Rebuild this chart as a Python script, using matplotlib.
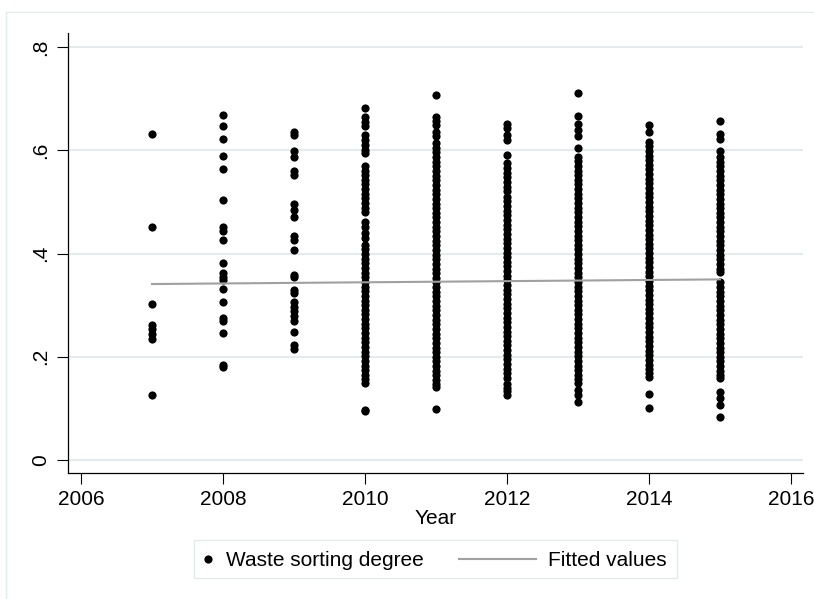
import matplotlib
matplotlib.use("Agg")
import matplotlib.pyplot as plt
from matplotlib.lines import Line2D
from matplotlib.patches import Rectangle

plt.rcParams['font.family'] = ['Liberation Sans', 'DejaVu Sans']

# ---------------- data ----------------
vals_2007 = [0.632, 0.452, 0.302, 0.262, 0.253, 0.244, 0.234, 0.126]
vals_2008 = [0.669, 0.647, 0.622, 0.590, 0.563, 0.503, 0.452, 0.444, 0.426, 0.382,
             0.363, 0.355, 0.349, 0.331, 0.306, 0.276, 0.270, 0.247, 0.185, 0.181]
vals_2009 = [0.636, 0.629, 0.598, 0.587, 0.560, 0.552, 0.497, 0.484, 0.470, 0.435,
             0.426, 0.407, 0.358, 0.354, 0.329, 0.324, 0.306, 0.297, 0.289, 0.280,
             0.270, 0.249, 0.223, 0.215]
vals_2010 = [0.683, 0.665, 0.655, 0.647, 0.630, 0.620, 0.611, 0.601, 0.594,
             0.570, 0.561, 0.552, 0.543, 0.534, 0.525, 0.516, 0.507, 0.498, 0.489, 0.480,
             0.462, 0.452, 0.439, 0.430,
             0.417, 0.408, 0.399, 0.390, 0.381, 0.372, 0.363, 0.354, 0.345, 0.336,
             0.327, 0.318, 0.309, 0.300, 0.291, 0.282, 0.273, 0.264, 0.255, 0.246,
             0.237, 0.228, 0.219, 0.210, 0.201, 0.192, 0.183, 0.174, 0.165, 0.156,
             0.149, 0.097, 0.094]
vals_2011 = [0.708, 0.665, 0.657, 0.649, 0.636, 0.627,
             0.614, 0.605, 0.596, 0.587, 0.578, 0.569, 0.560, 0.551, 0.542, 0.533,
             0.524, 0.515, 0.506, 0.497, 0.488, 0.479, 0.470, 0.461, 0.452, 0.443,
             0.434, 0.425, 0.416, 0.407, 0.398, 0.389, 0.380, 0.371, 0.362, 0.353,
             0.344, 0.335, 0.326, 0.317, 0.308, 0.299, 0.290, 0.281, 0.272, 0.263,
             0.254, 0.245, 0.236, 0.227, 0.218, 0.209, 0.200, 0.191, 0.182, 0.173,
             0.164, 0.155, 0.148, 0.142, 0.098]
vals_2012 = [0.652, 0.643, 0.630, 0.620, 0.591,
             0.575, 0.566, 0.557, 0.548, 0.539, 0.530, 0.521, 0.510, 0.501, 0.492,
             0.483, 0.474, 0.465, 0.456, 0.447, 0.438, 0.429, 0.420, 0.411, 0.402,
             0.393, 0.384, 0.375, 0.366, 0.357, 0.348, 0.339, 0.330, 0.321, 0.312,
             0.303, 0.294, 0.285, 0.276, 0.267, 0.258, 0.249, 0.240, 0.231, 0.222,
             0.213, 0.204, 0.195, 0.186, 0.177, 0.168, 0.159, 0.148, 0.140, 0.133,
             0.126]
vals_2013 = [0.712, 0.667, 0.651, 0.640, 0.627, 0.605,
             0.588, 0.579, 0.570, 0.561, 0.552, 0.543, 0.534, 0.525, 0.516, 0.507,
             0.498, 0.489, 0.480, 0.471, 0.462, 0.453, 0.444, 0.435, 0.426, 0.417,
             0.408, 0.399, 0.390, 0.381, 0.372, 0.363, 0.354, 0.345, 0.336, 0.327,
             0.318, 0.309, 0.300, 0.291, 0.282, 0.273, 0.264, 0.255, 0.246, 0.237,
             0.228, 0.219, 0.210, 0.201, 0.192, 0.183, 0.174, 0.165, 0.157, 0.149,
             0.136, 0.126, 0.113]
vals_2014 = [0.649, 0.636,
             0.617, 0.608, 0.599, 0.590, 0.581, 0.572, 0.563, 0.554, 0.545, 0.536,
             0.527, 0.518, 0.509, 0.500, 0.491, 0.482, 0.473, 0.464, 0.455, 0.446,
             0.437, 0.428, 0.419, 0.410, 0.401, 0.392, 0.383, 0.374, 0.365, 0.356,
             0.347, 0.338, 0.329, 0.320, 0.311, 0.302, 0.293, 0.284, 0.275, 0.266,
             0.257, 0.248, 0.239, 0.230, 0.221, 0.212, 0.203, 0.194, 0.185, 0.176,
             0.168, 0.161, 0.128, 0.100]
vals_2015 = [0.657, 0.631, 0.623, 0.598, 0.588,
             0.578, 0.569, 0.560, 0.551, 0.542, 0.533, 0.524, 0.515, 0.506, 0.497,
             0.488, 0.479, 0.470, 0.461, 0.452, 0.443, 0.434, 0.425, 0.416, 0.407,
             0.398, 0.389, 0.380, 0.371, 0.364,
             0.344, 0.335, 0.326, 0.317, 0.308, 0.299, 0.290, 0.281, 0.272, 0.263,
             0.254, 0.245, 0.236, 0.227, 0.218, 0.209, 0.200, 0.191, 0.182, 0.173,
             0.165, 0.158, 0.132, 0.120, 0.107, 0.084]

years = [2007, 2008, 2009, 2010, 2011, 2012, 2013, 2014, 2015]
values_by_year = [vals_2007, vals_2008, vals_2009, vals_2010, vals_2011,
                  vals_2012, vals_2013, vals_2014, vals_2015]

fit_years = [2007, 2015]
fit_values = [0.341, 0.350]

x_ticks = [2006, 2008, 2010, 2012, 2014, 2016]
y_ticks = [0, 0.2, 0.4, 0.6, 0.8]
y_tick_labels = ["0", ".2", ".4", ".6", ".8"]

series_label = "Waste sorting degree"
fit_label = "Fitted values"
x_label = "Year"

# ---------------- figure ----------------
W, H = 814, 599
fig = plt.figure(figsize=(W / 100, H / 100), dpi=100)
fig.patch.set_facecolor('white')

def fx(px):
    return px / W

def fy(py):
    return 1 - py / H

# outer light frame (top and left visible)
fig.add_artist(Rectangle((fx(6), -0.2), 1.5, fy(12) + 0.2, transform=fig.transFigure,
                         facecolor='none', edgecolor='#e3ebeb', linewidth=1.0))

ax_l, ax_r, ax_t, ax_b = 68, 803, 33, 473
ax = fig.add_axes([fx(ax_l), fy(ax_b), fx(ax_r - ax_l), (ax_b - ax_t) / H])
ax.set_facecolor('white')

xs, ys = [], []
for yr, vals in zip(years, values_by_year):
    xs.extend([yr] * len(vals))
    ys.extend(vals)

ax.plot(xs, ys, linestyle='none', marker='o', markersize=5.9,
        markerfacecolor='black', markeredgewidth=0, zorder=3)
ax.plot(fit_years, fit_values, color='#a0a0a0', linewidth=1.5, zorder=4)

ax.set_xlim(2005.817, 2016.169)
ax.set_ylim(-0.0252, 0.8275)

ax.set_xticks(x_ticks)
ax.set_xticklabels([str(t) for t in x_ticks])
ax.set_yticks(y_ticks)
ax.set_yticklabels(y_tick_labels, rotation=90, va='center')

ax.tick_params(axis='both', labelsize=15, length=8, width=0.8, color='black')
ax.tick_params(axis='x', pad=4.5)
ax.tick_params(axis='y', pad=5)

ax.grid(axis='y', color='#e4ebee', linewidth=1.5)
ax.set_axisbelow(True)

for side in ['top', 'right']:
    ax.spines[side].set_visible(False)
for side in ['left', 'bottom']:
    ax.spines[side].set_linewidth(0.9)
    ax.spines[side].set_color('black')

ax.set_xlabel(x_label, fontsize=15, labelpad=0)

# ---------------- legend (drawn manually) ----------------
fig.add_artist(Rectangle((fx(194), fy(578)), fx(677 - 194), (578 - 540) / H,
                         transform=fig.transFigure, facecolor='white',
                         edgecolor='#e3ebeb', linewidth=1.0))
ly = 559
fig.add_artist(Line2D([fx(208)], [fy(ly)], transform=fig.transFigure,
                      linestyle='none', marker='o', markersize=5.9,
                      markerfacecolor='black', markeredgewidth=0))
fig.text(fx(226), fy(566.5), series_label, fontsize=15, ha='left', va='baseline')
fig.add_artist(Line2D([fx(459), fx(536)], [fy(ly), fy(ly)], transform=fig.transFigure,
                      color='#a0a0a0', linewidth=1.5))
fig.text(fx(548), fy(566.5), fit_label, fontsize=15, ha='left', va='baseline')

fig.savefig("out.png", dpi=100, facecolor='white')
